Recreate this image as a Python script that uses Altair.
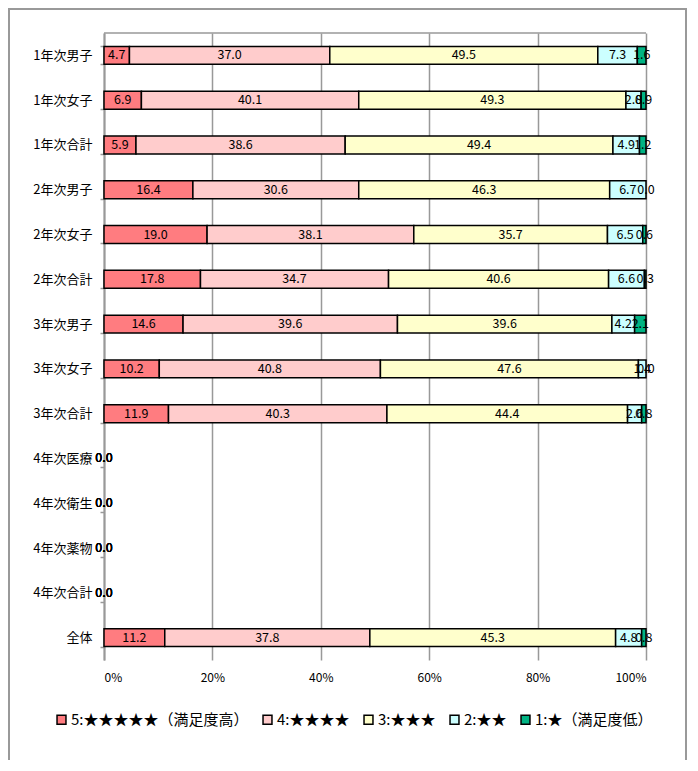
import altair as alt
import pandas as pd

categories = ["1年次男子", "1年次女子", "1年次合計", "2年次男子", "2年次女子", "2年次合計",
              "3年次男子", "3年次女子", "3年次合計", "4年次医療", "4年次衛生", "4年次薬物",
              "4年次合計", "全体"]
series = ["5:★★★★★（満足度高）", "4:★★★★", "3:★★★", "2:★★", "1:★（満足度低）"]
colors = ["#FF7C80", "#FFCCCC", "#FFFFCC", "#CCFFFF", "#00B383"]

s5 = [4.7, 6.9, 5.9, 16.4, 19.0, 17.8, 14.6, 10.2, 11.9, 0.0, 0.0, 0.0, 0.0, 11.2]
s4 = [37.0, 40.1, 38.6, 30.6, 38.1, 34.7, 39.6, 40.8, 40.3, 0.0, 0.0, 0.0, 0.0, 37.8]
s3 = [49.5, 49.3, 49.4, 46.3, 35.7, 40.6, 39.6, 47.6, 44.4, 0.0, 0.0, 0.0, 0.0, 45.3]
s2 = [7.3, 2.8, 4.9, 6.7, 6.5, 6.6, 4.2, 1.4, 2.6, 0.0, 0.0, 0.0, 0.0, 4.8]
s1 = [1.6, 0.9, 1.2, 0.0, 0.6, 0.3, 2.1, 0.0, 0.8, 0.0, 0.0, 0.0, 0.0, 0.8]

rows = []
for k, (name, vals) in enumerate(zip(series, [s5, s4, s3, s2, s1])):
    for cat, v in zip(categories, vals):
        rows.append({"cat": cat, "series": name, "order": k, "value": v})
df = pd.DataFrame(rows)

FONT = "Noto Sans CJK JP"

base = alt.Chart(df).transform_joinaggregate(
    total="sum(value)", groupby=["cat"]
).transform_stack(
    stack="value", groupby=["cat"], as_=["s0", "s1"],
    sort=[alt.SortField("order", order="ascending")]
).transform_calculate(
    x0="datum.total > 0 ? datum.s0 / datum.total : 0",
    x1="datum.total > 0 ? datum.s1 / datum.total : 0",
    mid="datum.total > 0 ? (datum.s0 + datum.s1) / 2 / datum.total : 0",
)

yenc = alt.Y("cat:N", sort=categories, title=None,
             scale=alt.Scale(paddingInner=0.6, paddingOuter=0.3),
             axis=alt.Axis(domainColor="#999999", domainWidth=2, tickColor="#999999",
                           tickWidth=1.5, tickSize=4, tickBand="extent",
                           labelFontSize=13, labelFont=FONT, labelColor="black",
                           labelPadding=8))

bars = base.transform_filter("datum.value > 0").mark_bar(
    stroke="black", strokeWidth=1.5
).encode(
    y=yenc,
    x=alt.X("x0:Q", title=None,
            scale=alt.Scale(domain=[0, 1], nice=False, zero=True),
            axis=alt.Axis(format="%", values=[0, 0.2, 0.4, 0.6, 0.8, 1.0],
                          grid=True, gridColor="#999999", gridWidth=1.5,
                          domain=False, ticks=False, labelPadding=12,
                          labelFontSize=12, labelFont=FONT, labelColor="black")),
    x2="x1:Q",
    color=alt.Color("series:N",
                    scale=alt.Scale(domain=series, range=colors),
                    legend=alt.Legend(title=None, orient="none", direction="horizontal",
                                      legendX=-50, legendY=679,
                                      symbolType="square", symbolSize=80,
                                      symbolStrokeColor="black", symbolStrokeWidth=1.5,
                                      labelFontSize=15, labelFont=FONT, labelColor="black",
                                      labelLimit=400,
                                      columnPadding=11, labelOffset=2,
                                      symbolOpacity=1)),
)

labels = base.mark_text(fontSize=12.5, font=FONT, color="black").encode(
    y=alt.Y("cat:N", sort=categories),
    x=alt.X("mid:Q"),
    text=alt.Text("value:Q", format=".1f"),
)

frame = alt.Chart(alt.Data(values=[{}])).mark_rect(
    fill="transparent", stroke="#999999", strokeWidth=2
).encode(
    x=alt.value(-95), x2=alt.value(582), y=alt.value(-24), y2=alt.value(760)
)

top_line = alt.Chart(alt.Data(values=[{}])).mark_rule(
    color="#999999", strokeWidth=1.5
).encode(
    x=alt.value(0), x2=alt.value(542), y=alt.value(0)
)

chart = alt.layer(frame, bars, labels, top_line).properties(
    width=542, height=627, autosize="none",
    padding={"left": 96, "top": 25, "right": 44, "bottom": 100},
).configure_view(stroke=None)

chart.save("out.html", embed_options={"renderer": "svg", "actions": False})
